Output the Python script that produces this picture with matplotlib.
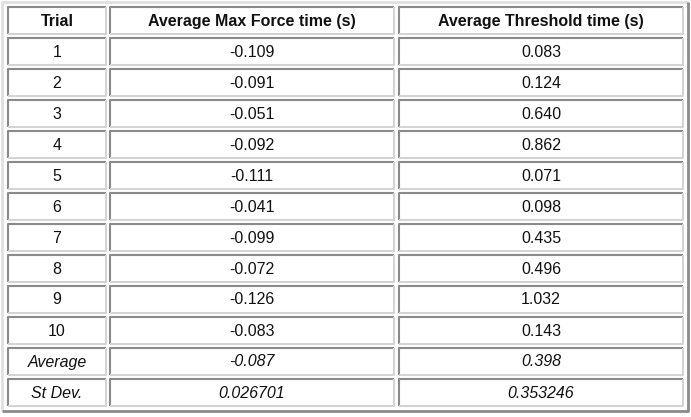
import matplotlib
matplotlib.use("Agg")
import matplotlib.pyplot as plt

headers = ["Trial", "Average Max Force time (s)", "Average Threshold time (s)"]
trials = ["1", "2", "3", "4", "5", "6", "7", "8", "9", "10"]
max_force = ["-0.109", "-0.091", "-0.051", "-0.092", "-0.111", "-0.041", "-0.099", "-0.072", "-0.126", "-0.083"]
threshold = ["0.083", "0.124", "0.640", "0.862", "0.071", "0.098", "0.435", "0.496", "1.032", "0.143"]
summary_labels = ["Average", "St Dev."]
summary_force = ["-0.087", "0.026701"]
summary_thresh = ["0.398", "0.353246"]

W, H = 691, 417
fig = plt.figure(figsize=(W/100, H/100), dpi=100)
ax = fig.add_axes([0, 0, 1, 1])
ax.set_xlim(0, W); ax.set_ylim(H, 0); ax.axis("off")

def bevel(x0, y0, x1, y1, tl, br, lw):
    ax.plot([x0, x0, x1], [y1, y0, y0], color=tl, lw=lw, solid_capstyle="butt")
    ax.plot([x0, x1, x1], [y1, y1, y0], color=br, lw=lw, solid_capstyle="butt")

bevel(2, 2, 688, 411, "#e0e0e0", "#8a8a8a", 2)

cols = [(8, 106), (110, 394), (399, 683)]
rows = [headers] + [[t, f, h] for t, f, h in zip(trials, max_force, threshold)] + \
       [[l, f, h] for l, f, h in zip(summary_labels, summary_force, summary_thresh)]
for i, r in enumerate(rows):
    y0 = 7 + 31 * i; y1 = y0 + 27
    for j, (x0, x1) in enumerate(cols):
        bevel(x0, y0, x1, y1, "#8a8a8a", "#d4d4d4", 1.5)
        kw = dict(ha="center", va="center", fontsize=11.5, family="Liberation Sans", color="#111")
        if i == 0:
            kw["fontweight"] = "bold"
        if i > 10:
            kw["style"] = "italic"
        ax.text((x0 + x1) / 2, (y0 + y1) / 2 + 0.5, r[j], **kw)

fig.savefig("out.png", dpi=100)
